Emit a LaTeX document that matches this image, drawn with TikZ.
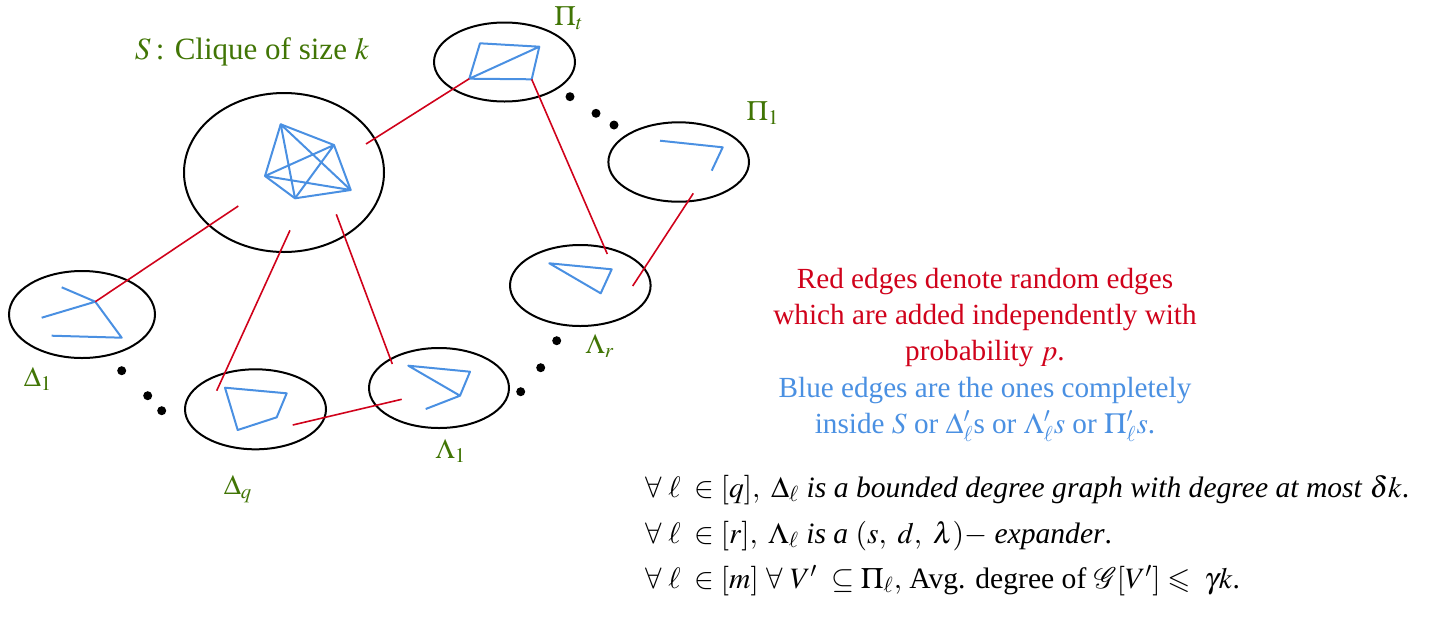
\documentclass[tikz,border=0pt]{standalone}
\usepackage{mathptmx}
\usepackage{amssymb}
\usepackage[no-math]{fontspec}
\setmainfont{Liberation Serif}
\usetikzlibrary{shapes.geometric}
\definecolor{myred}{RGB}{208,2,27}
\definecolor{myblue}{RGB}{74,144,226}
\definecolor{mygreen}{RGB}{65,117,5}
\begin{document}
\begin{tikzpicture}[x=0.5pt,y=-0.5pt,
  blob/.style={ellipse, draw=black, line width=1pt, inner sep=0pt},
  bl/.style={draw=myblue, line width=1pt, line join=round},
  rd/.style={draw=myred, line width=0.8pt},
  lab/.style={text=mygreen, font=\fontsize{14}{16}\selectfont, inner sep=0pt},
  dot/.style={circle, fill=black, inner sep=0pt, minimum size=4.5pt},
  txt/.style={font=\fontsize{14.6}{18}\selectfont, align=center, inner sep=0pt},
  stmt/.style={font=\fontsize{14.8}{16}\selectfont, anchor=base west, inner sep=0pt}]
\useasboundingbox (0,0) rectangle (1429,622);

% ellipses
\node[blob, minimum width=100pt, minimum height=79.5pt] (S) at (284,172.5) {};
\node[blob, minimum width=70.5pt, minimum height=39.5pt] (Pt) at (504.5,62) {};
\node[blob, minimum width=70.3pt, minimum height=39.7pt] (P1) at (678.7,162) {};
\node[blob, minimum width=70.3pt, minimum height=40.5pt] (Lr) at (580.3,285.5) {};
\node[blob, minimum width=73pt, minimum height=43.5pt] (D1) at (82,314.5) {};
\node[blob, minimum width=70.5pt, minimum height=40pt] (Dq) at (255.5,409.3) {};
\node[blob, minimum width=70pt, minimum height=40pt] (L1) at (439,388) {};

% clique K5
\coordinate (a) at (280.7,124.3);
\coordinate (b) at (334,145);
\coordinate (c) at (350.7,190);
\coordinate (d) at (295,198.3);
\coordinate (e) at (265,176);
\draw[bl] (a)--(b)--(c)--(d)--(e)--cycle;
\draw[bl] (a)--(c) (a)--(d) (b)--(d) (b)--(e) (c)--(e);

% Pi_t
\coordinate (pt1) at (480,43.3);
\coordinate (pt2) at (539.3,46.7);
\coordinate (pt3) at (531.7,79.3);
\coordinate (pt4) at (469.3,78.7);
\draw[bl] (pt1)--(pt2)--(pt3)--(pt4)--cycle (pt4)--(pt2);

% Pi_1
\coordinate (p11) at (660,140.7);
\coordinate (p12) at (722.7,147.3);
\coordinate (p13) at (711.7,170.7);
\draw[bl] (p11)--(p12)--(p13);

% Lambda_r
\coordinate (lr1) at (549.3,263.3);
\coordinate (lr2) at (611.7,269.3);
\coordinate (lr3) at (600.7,293.3);
\draw[bl] (lr1)--(lr2)--(lr3)--cycle;

% Delta_1
\coordinate (dv) at (95.3,301.7);
\coordinate (da) at (61.7,287.3);
\coordinate (db) at (41.7,317.7);
\coordinate (dc) at (121.7,337.7);
\coordinate (dd) at (51.7,335.7);
\draw[bl] (da)--(dv)--(db) (dv)--(dc)--(dd);

% Delta_q
\coordinate (q1) at (225,387.7);
\coordinate (q2) at (286.7,393.3);
\coordinate (q3) at (276.7,417.3);
\coordinate (q4) at (237.7,430);
\draw[bl] (q1)--(q2)--(q3)--(q4)--cycle;

% Lambda_1
\coordinate (l1) at (408.3,365.7);
\coordinate (l2) at (470,371.7);
\coordinate (l3) at (460,395.7);
\coordinate (l4) at (425.7,409);
\draw[bl] (l1)--(l2)--(l3)--cycle (l3)--(l4);

% red edges
\coordinate (sPt) at (366,144);
\coordinate (sD1) at (238.3,206);
\coordinate (sDq) at (290,230.3);
\coordinate (eDq) at (216.7,390.7);
\coordinate (sL1) at (336.3,214.3);
\coordinate (eL1) at (392.3,364);
\coordinate (eLr) at (607.3,254);
\coordinate (sP1) at (693.3,193.3);
\coordinate (eLr2) at (632.7,286);
\coordinate (sDqL) at (292.7,425);
\coordinate (eL1b) at (401.7,399.3);
\draw[rd] (sPt)--(pt4);
\draw[rd] (sD1)--(dv);
\draw[rd] (sDq)--(eDq);
\draw[rd] (sL1)--(eL1);
\draw[rd] (pt3)--(eLr);
\draw[rd] (sP1)--(eLr2);
\draw[rd] (sDqL)--(eL1b);

% dots
\node[dot] (x1) at (121.7,370.7) {};
\node[dot] (x2) at (147.7,395.7) {};
\node[dot] (x3) at (161.7,410.7) {};
\node[dot] (y1) at (556.7,340.7) {};
\node[dot] (y2) at (540.7,367.7) {};
\node[dot] (y3) at (520.7,391.7) {};
\node[dot] (z1) at (570,96.7) {};
\node[dot] (z2) at (596,113.3) {};
\node[dot] (z3) at (614,125) {};

% labels
\node[lab, font=\fontsize{15.5}{16}\selectfont] (lS) at (252,52) {$S$\,: Clique of size $k$};
\node[lab] (lPt) at (569,18) {$\Pi_t$};
\node[lab] (lP1) at (763,113) {$\Pi_1$};
\node[lab] (lLr) at (600,346) {$\Lambda_r$};
\node[lab] (lD1) at (38,379) {$\Delta_1$};
\node[lab] (lDq) at (238,489) {$\Delta_q$};
\node[lab] (lL1) at (451,451) {$\Lambda_1$};

% legend text
\node[txt, text=myred, anchor=base] (red) at (985,360) {Red edges denote random edges\\which are added independently with\\probability $p$.};
\node[txt, text=myblue, anchor=base] (blue) at (985,433) {Blue edges are the ones completely\\inside $S$ or $\Delta'_\ell$s or $\Lambda'_\ell s$ or $\Pi'_\ell s$.};

% statements
\node[stmt] (s1) at (645,497) {$\forall\;\ell\ \in[q],\ \Delta_\ell$ \textit{is a bounded degree graph with degree at most} $\delta k$.};
\node[stmt] (s2) at (645,543) {$\forall\;\ell\ \in[r],\ \Lambda_\ell$ \textit{is a} $(s,\ d,\ \lambda)-$ \textit{expander}.};
\node[stmt] (s3) at (645,588) {$\forall\;\ell\ \in[m]\ \forall\ V'\ \subseteq\Pi_\ell,$\ Avg. degree of $\mathcal{G}[V']\leqslant\ \gamma k$.};
\end{tikzpicture}
\end{document}
